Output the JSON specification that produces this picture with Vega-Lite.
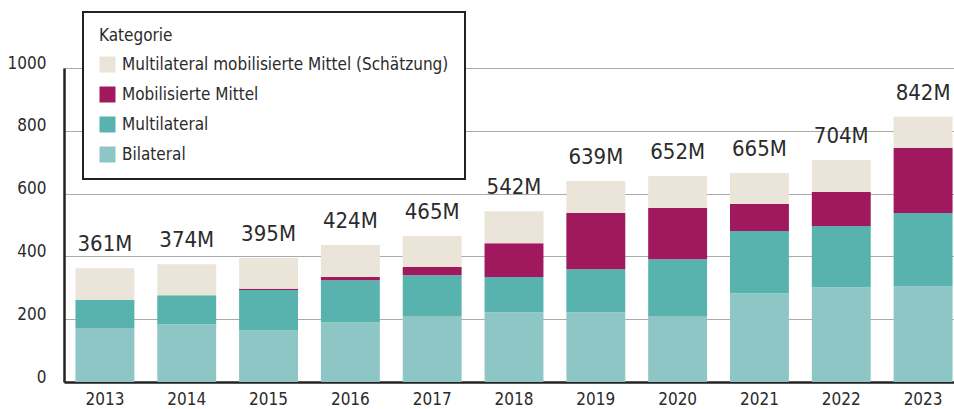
{
  "$schema": "https://vega.github.io/schema/vega-lite/v6.json",
  "width": 900,
  "height": 314,
  "autosize": {"type": "none"},
  "padding": {"left": 64, "top": 68, "right": -10, "bottom": 27},
  "background": "white",
  "config": {
    "font": "DejaVu Sans Condensed",
    "view": {"stroke": null},
    "axis": {"labelFont": "DejaVu Sans Condensed", "labelColor": "#2b2b2b"},
    "legend": {"labelFont": "DejaVu Sans Condensed", "titleFont": "DejaVu Sans Condensed"}
  },
  "data": {
    "values": [
      {"year": "2013", "category": "Bilateral", "rank": 1, "value": 172, "label": "361M"},
      {"year": "2013", "category": "Multilateral", "rank": 2, "value": 89, "label": "361M"},
      {"year": "2013", "category": "Mobilisierte Mittel", "rank": 3, "value": 0, "label": "361M"},
      {"year": "2013", "category": "Multilateral mobilisierte Mittel (Schätzung)", "rank": 4, "value": 101, "label": "361M"},
      {"year": "2014", "category": "Bilateral", "rank": 1, "value": 184, "label": "374M"},
      {"year": "2014", "category": "Multilateral", "rank": 2, "value": 92, "label": "374M"},
      {"year": "2014", "category": "Mobilisierte Mittel", "rank": 3, "value": 0, "label": "374M"},
      {"year": "2014", "category": "Multilateral mobilisierte Mittel (Schätzung)", "rank": 4, "value": 99, "label": "374M"},
      {"year": "2015", "category": "Bilateral", "rank": 1, "value": 165, "label": "395M"},
      {"year": "2015", "category": "Multilateral", "rank": 2, "value": 128, "label": "395M"},
      {"year": "2015", "category": "Mobilisierte Mittel", "rank": 3, "value": 4, "label": "395M"},
      {"year": "2015", "category": "Multilateral mobilisierte Mittel (Schätzung)", "rank": 4, "value": 98, "label": "395M"},
      {"year": "2016", "category": "Bilateral", "rank": 1, "value": 190, "label": "424M"},
      {"year": "2016", "category": "Multilateral", "rank": 2, "value": 134, "label": "424M"},
      {"year": "2016", "category": "Mobilisierte Mittel", "rank": 3, "value": 10, "label": "424M"},
      {"year": "2016", "category": "Multilateral mobilisierte Mittel (Schätzung)", "rank": 4, "value": 102, "label": "424M"},
      {"year": "2017", "category": "Bilateral", "rank": 1, "value": 210, "label": "465M"},
      {"year": "2017", "category": "Multilateral", "rank": 2, "value": 130, "label": "465M"},
      {"year": "2017", "category": "Mobilisierte Mittel", "rank": 3, "value": 26, "label": "465M"},
      {"year": "2017", "category": "Multilateral mobilisierte Mittel (Schätzung)", "rank": 4, "value": 99, "label": "465M"},
      {"year": "2018", "category": "Bilateral", "rank": 1, "value": 222, "label": "542M"},
      {"year": "2018", "category": "Multilateral", "rank": 2, "value": 112, "label": "542M"},
      {"year": "2018", "category": "Mobilisierte Mittel", "rank": 3, "value": 108, "label": "542M"},
      {"year": "2018", "category": "Multilateral mobilisierte Mittel (Schätzung)", "rank": 4, "value": 102, "label": "542M"},
      {"year": "2019", "category": "Bilateral", "rank": 1, "value": 222, "label": "639M"},
      {"year": "2019", "category": "Multilateral", "rank": 2, "value": 137, "label": "639M"},
      {"year": "2019", "category": "Mobilisierte Mittel", "rank": 3, "value": 179, "label": "639M"},
      {"year": "2019", "category": "Multilateral mobilisierte Mittel (Schätzung)", "rank": 4, "value": 102, "label": "639M"},
      {"year": "2020", "category": "Bilateral", "rank": 1, "value": 210, "label": "652M"},
      {"year": "2020", "category": "Multilateral", "rank": 2, "value": 181, "label": "652M"},
      {"year": "2020", "category": "Mobilisierte Mittel", "rank": 3, "value": 163, "label": "652M"},
      {"year": "2020", "category": "Multilateral mobilisierte Mittel (Schätzung)", "rank": 4, "value": 102, "label": "652M"},
      {"year": "2021", "category": "Bilateral", "rank": 1, "value": 283, "label": "665M"},
      {"year": "2021", "category": "Multilateral", "rank": 2, "value": 198, "label": "665M"},
      {"year": "2021", "category": "Mobilisierte Mittel", "rank": 3, "value": 86, "label": "665M"},
      {"year": "2021", "category": "Multilateral mobilisierte Mittel (Schätzung)", "rank": 4, "value": 99, "label": "665M"},
      {"year": "2022", "category": "Bilateral", "rank": 1, "value": 302, "label": "704M"},
      {"year": "2022", "category": "Multilateral", "rank": 2, "value": 195, "label": "704M"},
      {"year": "2022", "category": "Mobilisierte Mittel", "rank": 3, "value": 108, "label": "704M"},
      {"year": "2022", "category": "Multilateral mobilisierte Mittel (Schätzung)", "rank": 4, "value": 102, "label": "704M"},
      {"year": "2023", "category": "Bilateral", "rank": 1, "value": 305, "label": "842M"},
      {"year": "2023", "category": "Multilateral", "rank": 2, "value": 233, "label": "842M"},
      {"year": "2023", "category": "Mobilisierte Mittel", "rank": 3, "value": 208, "label": "842M"},
      {"year": "2023", "category": "Multilateral mobilisierte Mittel (Schätzung)", "rank": 4, "value": 99, "label": "842M"}
    ]
  },
  "encoding": {
    "x": {
      "field": "year",
      "type": "ordinal",
      "title": null,
      "scale": {"paddingInner": 0.28, "paddingOuter": 0.14},
      "axis": {
        "labelAngle": 0,
        "labelFontSize": 17,
        "labelPadding": 9,
        "ticks": false,
        "domainColor": "#222222",
        "domainWidth": 2.5,
        "grid": false
      }
    }
  },
  "layer": [
    {
      "mark": {"type": "bar"},
      "encoding": {
        "y": {
          "field": "value",
          "type": "quantitative",
          "stack": "zero",
          "title": null,
          "scale": {"domain": [0, 1000], "nice": false},
          "axis": {
            "values": [0, 200, 400, 600, 800, 1000],
            "format": "d",
            "labelFontSize": 17,
            "labelPadding": 18,
            "labelBaseline": "alphabetic",
            "ticks": false,
            "domainColor": "#222222",
            "domainWidth": 2.5,
            "gridColor": "#aaaaaa",
            "gridWidth": 1.2
          }
        },
        "order": {"field": "rank", "type": "quantitative", "sort": "ascending"},
        "color": {
          "field": "category",
          "type": "nominal",
          "scale": {
            "domain": ["Multilateral mobilisierte Mittel (Schätzung)", "Mobilisierte Mittel", "Multilateral", "Bilateral"],
            "range": ["#ebe4d8", "#a0185e", "#58b3af", "#8dc6c4"]
          },
          "legend": {
            "title": "Kategorie",
            "orient": "none",
            "legendX": 19,
            "legendY": -56,
            "titleFontSize": 17,
            "titleFontWeight": "normal",
            "titleColor": "#2b2b2b",
            "titlePadding": 11,
            "labelFontSize": 17,
            "labelColor": "#2b2b2b",
            "labelOffset": 6,
            "symbolType": "square",
            "symbolSize": 256,
            "symbolStrokeWidth": 0,
            "rowPadding": 12,
            "padding": 16,
            "strokeColor": "#222222",
            "fillColor": "white",
            "labelLimit": 400,
            "encode": {"legend": {"update": {"strokeWidth": {"value": 2}}}}
          }
        }
      }
    },
    {
      "mark": {"type": "text", "dy": -17, "baseline": "alphabetic", "fontSize": 22, "color": "#2b2b2b"},
      "encoding": {
        "y": {"aggregate": "sum", "field": "value", "type": "quantitative"},
        "text": {"field": "label"}
      }
    }
  ]
}
